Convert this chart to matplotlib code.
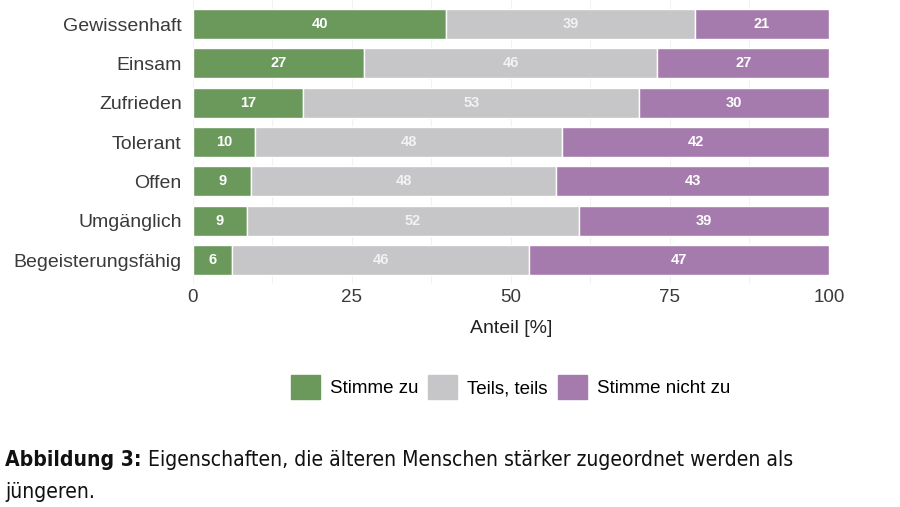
import matplotlib.pyplot as plt
import matplotlib.patches as mpatches
from matplotlib import font_manager
import numpy as np

# schmale Schrift fuer die Bildunterschrift, falls vorhanden
cond = [f for f in font_manager.fontManager.ttflist
        if f.stretch in ('condensed', 'semi-condensed', 600, 500)
        or 'Narrow' in f.name or 'Condensed' in f.name]
narrow = cond[0].name if cond else 'Liberation Sans'
stretch = cond[0].stretch if cond else 'normal'

# Daten (Anteile in %)
items = ['Gewissenhaft', 'Einsam', 'Zufrieden', 'Tolerant', 'Offen',
         'Umgänglich', 'Begeisterungsfähig']
stimme_zu = [39.8, 26.9, 17.3, 9.7, 9.2, 8.5, 6.2]
teils = [39.1, 46.1, 52.9, 48.4, 47.9, 52.2, 46.6]
nicht_zu = [21.1, 27.0, 29.8, 41.9, 42.9, 39.3, 47.2]
labels_zu = [40, 27, 17, 10, 9, 9, 6]
labels_teils = [39, 46, 53, 48, 48, 52, 46]
labels_nicht = [21, 27, 30, 42, 43, 39, 47]

series = ['Stimme zu', 'Teils, teils', 'Stimme nicht zu']
colors = ['#6a995b', '#c6c5c7', '#a57bae']

fig = plt.figure(figsize=(9, 5.07), dpi=100)
ax = fig.add_axes([0.2144, 0.4406, 0.7067, 0.5586])

y = np.arange(len(items))
left = np.zeros(len(items))
for vals, labs, col, txtcol in [(stimme_zu, labels_zu, colors[0], 'white'),
                                 (teils, labels_teils, colors[1], '#f2f2f2'),
                                 (nicht_zu, labels_nicht, colors[2], 'white')]:
    vals = np.array(vals)
    ax.barh(y, vals, left=left, height=0.77, color=col, edgecolor='white',
            linewidth=1.0, zorder=2)
    for yi, l, v, lab in zip(y, left, vals, labs):
        ax.text(l + v / 2, yi, str(lab), ha='center', va='center',
                color=txtcol, fontsize=10.5, fontweight='bold',
                family='Liberation Sans', zorder=3)
    left = left + vals

ax.set_xlim(0, 100)
ax.set_ylim(len(items) - 0.4, -0.6)
ax.set_yticks(y)
ax.set_yticklabels(items, fontsize=14, color='#3a3a3a', family='Liberation Sans')
ax.set_xticks([0, 25, 50, 75, 100])
ax.set_xticklabels(['0', '25', '50', '75', '100'], fontsize=13.5,
                   color='#3a3a3a', family='Liberation Sans')
ax.set_xticks([12.5, 37.5, 62.5, 87.5], minor=True)
ax.tick_params(axis='both', which='both', length=0)
ax.tick_params(axis='x', pad=4)
ax.tick_params(axis='y', pad=8)
ax.grid(axis='x', which='both', color='#f2f2f2', linewidth=0.8, zorder=0)
for s in ax.spines.values():
    s.set_visible(False)
ax.set_xlabel('Anteil [%]', fontsize=14, color='#222222',
              family='Liberation Sans', labelpad=10)

handles = [mpatches.Patch(color=c, label=s) for c, s in zip(colors, series)]
fig.legend(handles=handles, loc='center', bbox_to_anchor=(0.567, 0.237), ncol=3,
           frameon=False, handlelength=1.55, handleheight=1.55, handletextpad=0.53,
           columnspacing=0.53, borderpad=0,
           prop={'family': 'Liberation Sans', 'size': 13.5})

cap = dict(fontsize=15.15, family=narrow, stretch=stretch, color='#111111',
           va='center')
t1 = fig.text(0.006, 0.093, 'Abbildung 3:', fontweight='bold', **cap)
fig.canvas.draw()
bb = t1.get_window_extent()
fig.text((bb.x1 + 6) / 900, 0.093,
         'Eigenschaften, die älteren Menschen stärker zugeordnet werden als', **cap)
fig.text(0.006, 0.030, 'jüngeren.', **cap)

fig.savefig('out.png', dpi=100, facecolor='white')
